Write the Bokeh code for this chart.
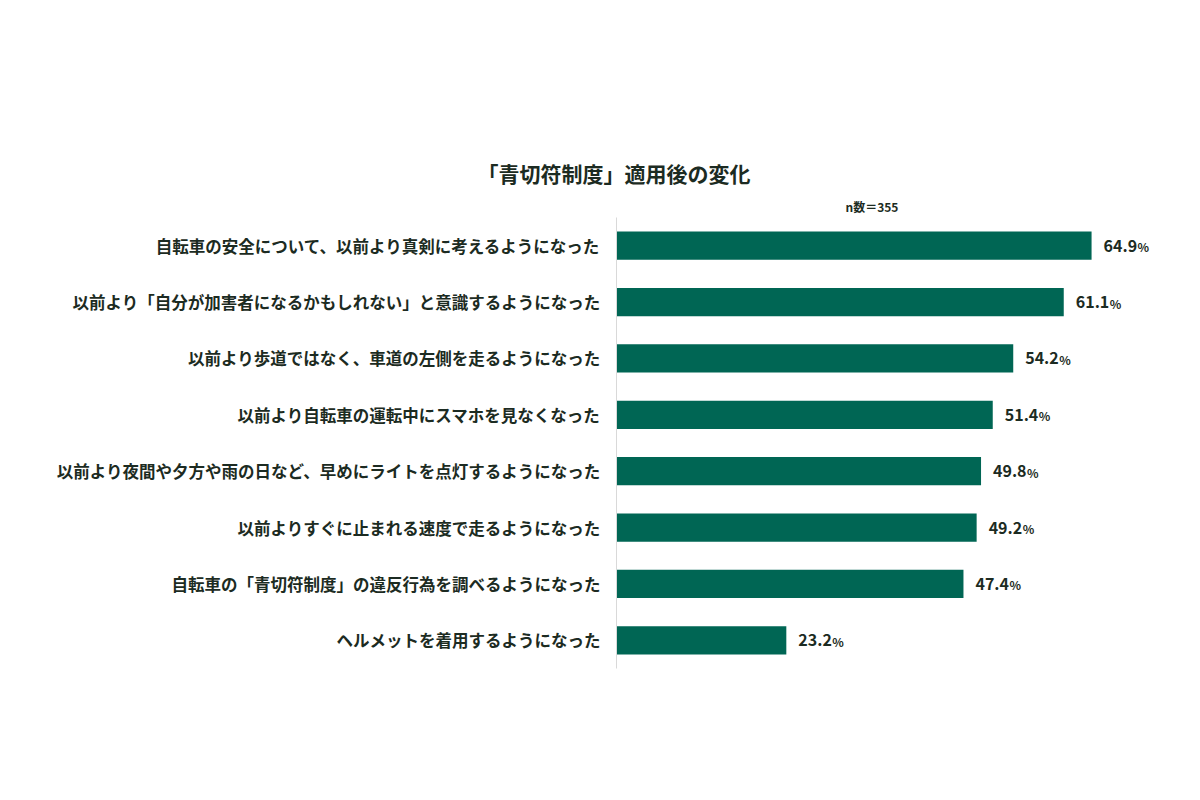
from bokeh.plotting import figure
from bokeh.models import FactorRange, Range1d, Title, ColumnDataSource
from bokeh.embed import file_html
from bokeh.resources import INLINE
from bokeh.core.properties import value

categories = [
    "自転車の安全について、以前より真剣に考えるようになった",
    "以前より「自分が加害者になるかもしれない」と意識するようになった",
    "以前より歩道ではなく、車道の左側を走るようになった",
    "以前より自転車の運転中にスマホを見なくなった",
    "以前より夜間や夕方や雨の日など、早めにライトを点灯するようになった",
    "以前よりすぐに止まれる速度で走るようになった",
    "自転車の「青切符制度」の違反行為を調べるようになった",
    "ヘルメットを着用するようになった",
]
values = [64.9, 61.1, 54.2, 51.4, 49.8, 49.2, 47.4, 23.2]
title_text = "「青切符制度」適用後の変化"
n_text = "n数＝355"

FONT = "Noto Sans CJK JP"
BAR = "#006654"
TXT = "#1c2b22"

src = ColumnDataSource(dict(
    cat=categories,
    val=values,
    num=[f"{v:.1f}" for v in values],
    pct=["%"] * len(values),
))

p = figure(
    width=1184, height=784,
    y_range=FactorRange(factors=list(reversed(categories))),
    x_range=Range1d(0, 75),
    output_backend="svg", toolbar_location=None,
    min_border_left=616, min_border_right=19,
    min_border_top=217, min_border_bottom=116,
)
p.outline_line_color = None
p.background_fill_color = "white"
p.border_fill_color = "white"
p.xgrid.visible = False
p.ygrid.visible = False
p.xaxis.visible = False

ax = p.yaxis[0]
ax.axis_line_color = "#d9d9d9"
ax.axis_line_width = 1
ax.major_tick_line_color = None
ax.minor_tick_line_color = None
ax.major_label_text_font = FONT
ax.major_label_text_font_size = "16.5px"
ax.major_label_text_font_style = "bold"
ax.major_label_text_color = TXT
ax.major_label_standoff = 10

p.hbar(y="cat", right="val", left=0, height=0.5, source=src,
       fill_color=BAR, line_color=None)

p.text(x="val", y="cat", text="num", source=src, x_offset=12,
       text_font=value(FONT), text_font_size="16px", text_font_style="bold",
       text_color=TXT, text_baseline="middle", text_align="left")
p.text(x="val", y="cat", text="pct", source=src, x_offset=46, y_offset=1,
       text_font=value(FONT), text_font_size="12px", text_font_style="bold",
       text_color=TXT, text_baseline="middle", text_align="left")

p.add_layout(Title(text=n_text, text_font=FONT, text_font_size="12px",
                   text_font_style="bold", text_color=TXT,
                   align="left", offset=229, standoff=6), "above")
p.add_layout(Title(text=title_text, text_font=FONT, text_font_size="21px",
                   text_font_style="bold", text_color=TXT,
                   align="left", offset=-139, standoff=10), "above")

open("out.html", "w").write(file_html(p, INLINE))
